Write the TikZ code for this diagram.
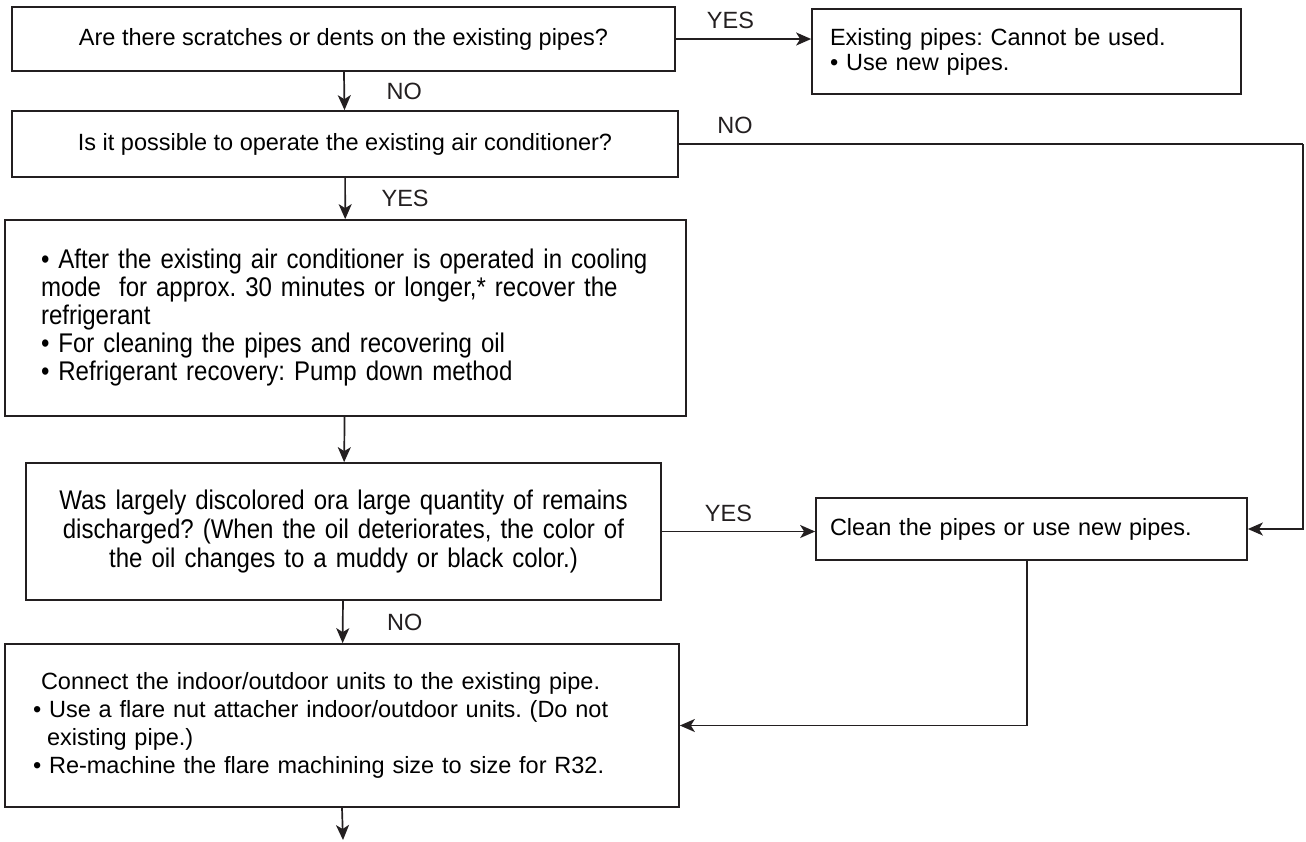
\documentclass[tikz,border=0pt]{standalone}
\usepackage{fontspec}
\setmainfont{Liberation Sans}
\newfontfamily\narrowfont{Liberation Sans}[FakeStretch=0.89]
\usepackage{tikz}
\usetikzlibrary{arrows.meta}
\definecolor{ink}{HTML}{231F20}
\tikzset{
  box/.style={
    draw = ink,
    line width = 1.7pt,
    shape = rectangle,
    inner sep = 0pt,
    font = \fontsize{23.5}{25}\selectfont
  },
  lbl/.style={
    inner sep = 1pt,
    text = ink,
    font = \fontsize{23.5}{25}\selectfont
  },
  arr/.style={
    draw = ink,
    line width = 1.7pt,
    -{Stealth[length=15pt,width=13pt,inset=4pt]}
  },
  wire/.style={
    draw = ink,
    line width = 1.7pt
  }
}

\begin{document}
\frenchspacing
\begin{tikzpicture}[x=1pt,y=-1pt]
        \useasboundingbox (0,0) rectangle (1306,841);
        % left column
        \node[box, minimum width=663pt, minimum height=64pt] (scratch) at (343.5,39) {Are there scratches or dents on the existing pipes?};
        \node[box, minimum width=666pt, minimum height=66pt] (operate) at (345,144) {Is it possible to operate the existing air conditioner?};
        \node[box, minimum width=681pt, minimum height=196pt, text width=609pt, align=left,
              font=\narrowfont\fontsize{27}{28}\selectfont] (recover) at (345.5,318)
             {\textbullet\ After the existing air conditioner is operated in cooling\\
              mode\ \ for approx. 30 minutes or longer,* recover the\\
              refrigerant\\
              \textbullet\ For cleaning the pipes and recovering oil\\
              \textbullet\ Refrigerant recovery: Pump down method};
        \node[box, minimum width=635pt, minimum height=137pt, text width=600pt, align=center,
              font=\narrowfont\fontsize{27}{29}\selectfont] (oil) at (343.5,531.5)
             {Was largely discolored ora large quantity of remains\\
              discharged? (When the oil deteriorates, the color of\\
              the oil changes to a muddy or black color.)\\[4pt]};
        \node[box, minimum width=674pt, minimum height=163pt, text width=618pt, align=left,
              font=\fontsize{23.5}{28}\selectfont] (connect) at (342,725.5)
             {\hspace*{8pt}Connect the indoor/outdoor units to the existing pipe.\\
              \textbullet\ Use a flare nut attacher indoor/outdoor units. (Do not\\
              \hspace*{14pt}existing pipe.)\\
              \textbullet\ Re-machine the flare machining size to size for R32.};
        % right column
        \node[box, minimum width=429pt, minimum height=85pt, text width=393pt, align=left] (newpipe) at (1026.5,51.5)
             {Existing pipes: Cannot be used.\\
              \textbullet\ Use new pipes.};
        \node[box, minimum width=431pt, minimum height=62pt, text width=403pt, align=left] (clean) at (1031.5,529)
             {Clean the pipes or use new pipes.};
        \coordinate (corner) at (1303,144);
        \coordinate (finish) at (343,840);
        % arrows
        \draw[arr] (scratch.east) -- node[lbl, midway, above=8pt, xshift=-13pt] (yesA) {YES} (scratch.east -| newpipe.west);
        \draw[arr] (scratch) -- node[lbl, midway, xshift=60pt] (noA) {NO} (operate);
        \draw[arr] (operate) -- node[lbl, midway, xshift=60pt] (yesB) {YES} (recover);
        \draw[arr] (recover) -- (oil);
        \draw[arr] (oil) -- node[lbl, midway, xshift=62pt] (noB) {NO} (connect);
        \draw[arr] (connect.south) -- (finish);
        \draw[arr] (oil.east) -- node[lbl, midway, above=8pt, xshift=-10pt] (yesC) {YES} (oil.east -| clean.west);
        \draw[wire] (operate.east) -- node[lbl, pos=0.09, above=8pt] (noC) {NO} (corner);
        \draw[arr] (corner) |- (clean.east);
        \draw[arr] ([xshift=-4.5pt]clean.south) |- (connect.east);
        %\node at (343,841) {};
\end{tikzpicture}
\end{document}
